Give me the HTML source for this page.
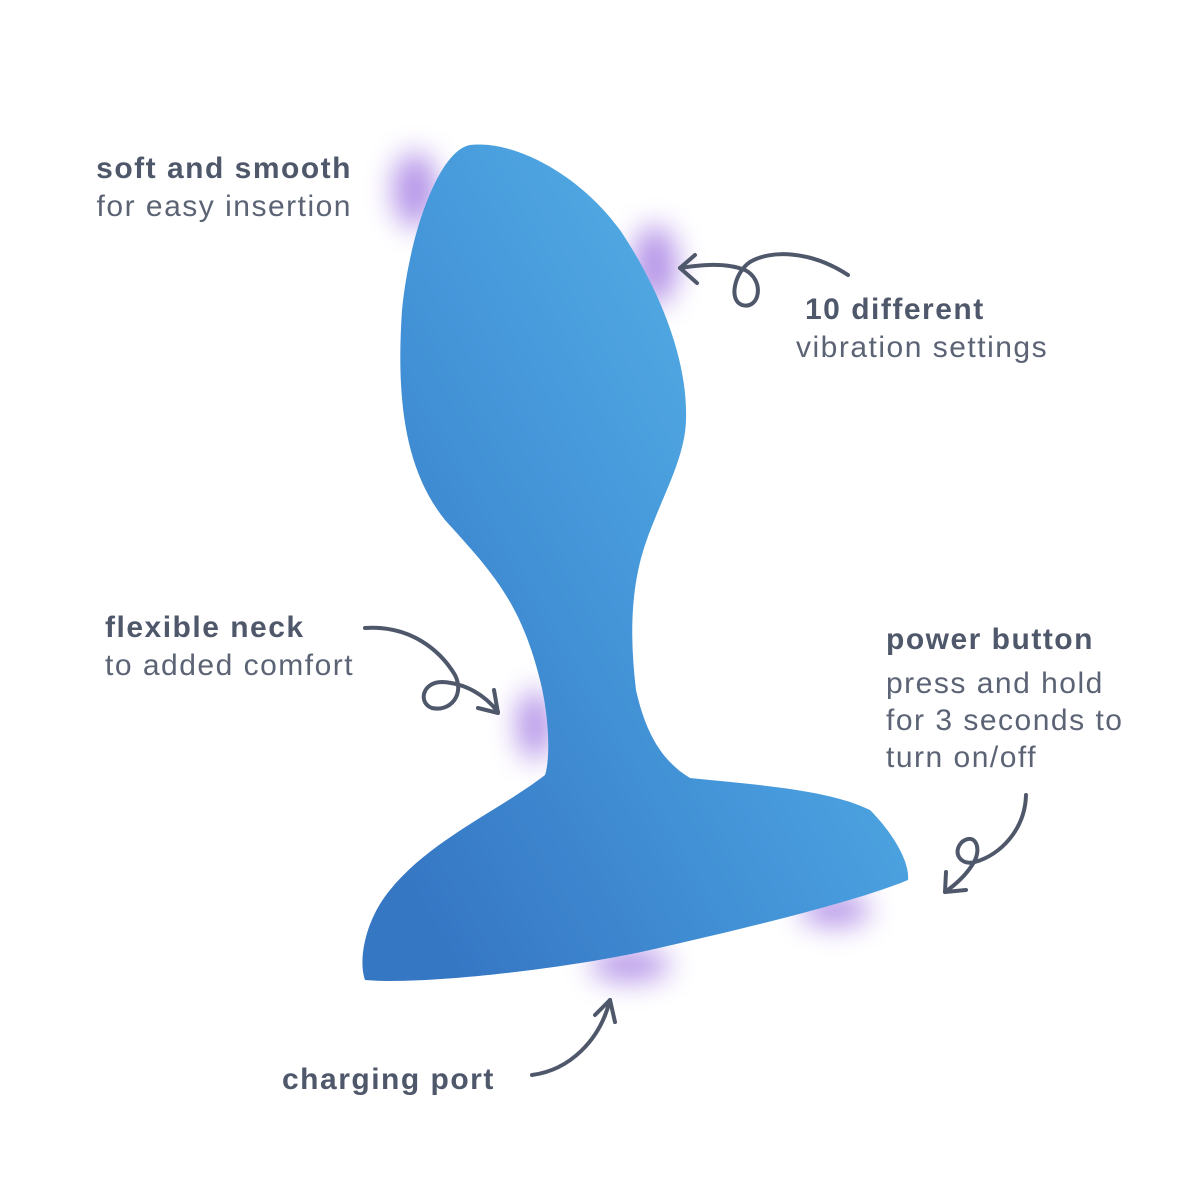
<!DOCTYPE html>
<html><head><meta charset="utf-8"><style>
html,body{margin:0;padding:0;background:#fff;}
body{width:1200px;height:1200px;position:relative;overflow:hidden;font-family:"Liberation Sans",sans-serif;color:#4f586b;}
.t{position:absolute;font-size:30px;line-height:38px;white-space:nowrap;letter-spacing:1.5px;}
.b{font-weight:bold;}
.l{font-weight:normal;color:#5b6375;}
svg{position:absolute;left:0;top:0;}
</style></head><body>
<svg width="1200" height="1200" viewBox="0 0 1200 1200">
<defs>
<linearGradient id="g" x1="0.9" y1="0.2" x2="0.1" y2="0.9">
<stop offset="0" stop-color="#58b4e6"/><stop offset="0.5" stop-color="#4597da"/><stop offset="1" stop-color="#3677c4"/>
</linearGradient>
<filter id="bl"><feGaussianBlur stdDeviation="14"/></filter>
</defs>
<g filter="url(#bl)" fill="#9b6fe0" opacity="0.75">
<ellipse cx="415" cy="190" rx="22" ry="38"/>
<ellipse cx="655" cy="265" rx="22" ry="40"/>
<ellipse cx="535" cy="725" rx="18" ry="35"/>
<ellipse cx="630" cy="965" rx="40" ry="16"/>
<ellipse cx="835" cy="910" rx="35" ry="16"/>
</g>
<path fill="url(#g)" d="M470,145 C440,150 410,230 402,310 C396,400 405,470 445,520 C490,570 520,600 540,680 C550,720 550,760 545,775 C500,810 430,840 390,890 C365,920 358,960 365,980 C420,985 560,970 650,950 C760,925 860,900 908,880 C910,860 890,830 870,810 C830,790 760,785 690,778 C660,760 645,730 636,690 C630,640 630,590 645,545 C660,500 685,460 686,420 C688,360 660,290 620,230 C580,175 515,140 470,145 Z"/>
<g fill="none" stroke="#4f586b" stroke-width="4" stroke-linecap="round" stroke-linejoin="round">
<path d="M848,275 C810,250 770,250 750,262 C735,272 728,300 742,305 C760,310 765,280 745,270 C725,262 700,265 680,268"/>
<path d="M695,255 L680,268 L697,283"/>
<path d="M365,628 C410,625 440,650 455,675 C465,695 450,712 432,708 C418,703 422,682 442,682 C465,683 485,695 498,712"/>
<path d="M478,708 L498,713 L494,690"/>
<path d="M1026,795 C1025,830 1000,855 975,862 C960,866 952,852 962,842 C975,832 982,848 974,862 C966,876 955,885 945,892"/>
<path d="M946,872 L945,892 L966,890"/>
<path d="M532,1075 C570,1070 600,1040 610,1000"/>
<path d="M595,1015 L610,1000 L615,1022"/>
</g>
</svg>
<div class="t b" style="right:848px;top:150px;">soft and smooth</div>
<div class="t l" style="right:848px;top:188px;">for easy insertion</div>
<div class="t b" style="left:805px;top:291px;">10 different</div>
<div class="t l" style="left:796px;top:329px;">vibration settings</div>
<div class="t b" style="left:105px;top:609px;">flexible neck</div>
<div class="t l" style="left:105px;top:647px;">to added comfort</div>
<div class="t b" style="left:886px;top:621px;">power button</div>
<div class="t l" style="left:886px;top:665px;">press and hold</div>
<div class="t l" style="left:886px;top:702px;">for 3 seconds to</div>
<div class="t l" style="left:886px;top:739px;">turn on/off</div>
<div class="t b" style="left:282px;top:1061px;">charging port</div>
</body></html>
